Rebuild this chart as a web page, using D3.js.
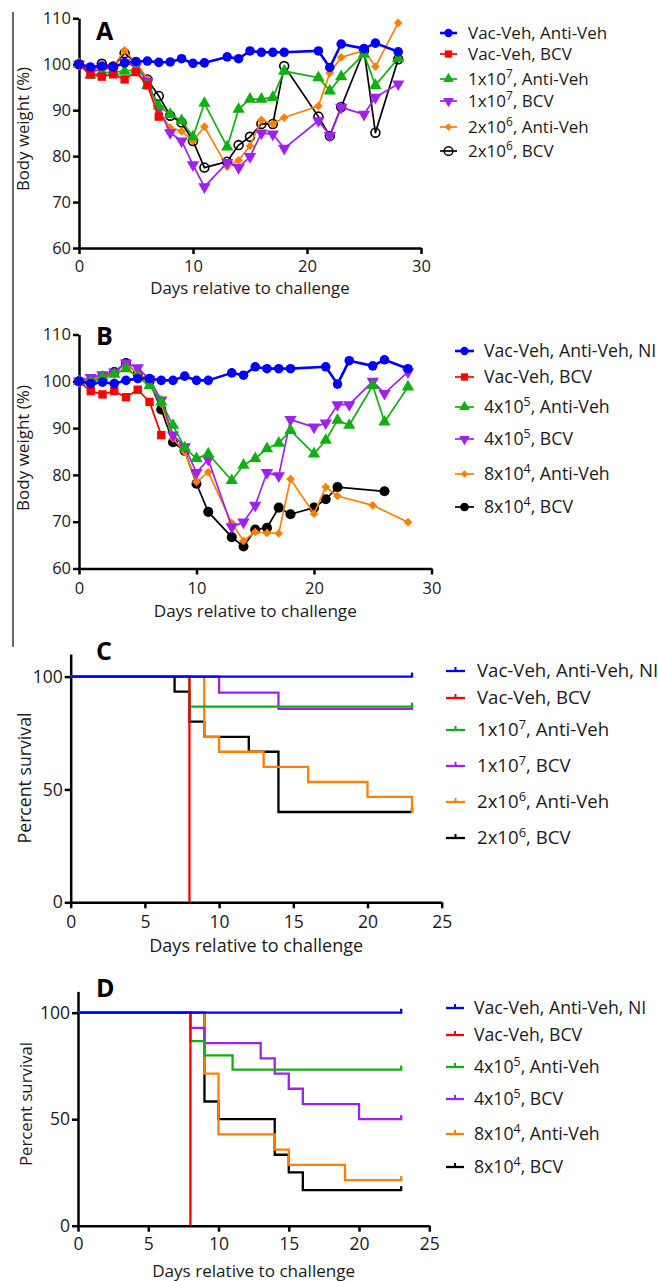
<!DOCTYPE html>
<html>
<head>
<meta charset="utf-8">
<script src="https://cdn.jsdelivr.net/npm/d3@7"></script>
<style>
  body { margin: 0; background: #fff; }
  svg { display: block; font-family: "Open Sans", Lato, sans-serif; }
</style>
</head>
<body>
<svg id="fig" width="658" height="1281"></svg>
<script>
// ---- panel A: body weight, high doses ----
const daysA = [0,1,2,3,4,5,6,7,8,9,10,11,13,14,15,16,17,18,21,22,23,25,26,28];
const aVacAnti = [100,99.4,99.6,99.4,100.3,100.6,100.7,100.4,100.5,101.2,100.2,100.3,101.6,101.2,102.9,102.6,102.6,102.6,102.9,99.3,104.4,103.4,104.6,102.7];
const aVacBcv  = [100,97.8,97.3,97.8,96.7,98.3,95.4,88.6];
const a1e7Anti = [100,97.6,98.2,98.3,98.5,98.8,95.4,90.9,89.1,87.7,84.2,91.5,82.0,90.2,92.4,92.4,92.8,98.5,97.1,94.2,97.3,102.2,95.4,101.3];
const a1e7Bcv  = [100,98.4,98.8,99.2,100.3,99.6,96.3,90.3,85.1,83.3,78.1,73.3,78.6,77.5,79.9,85.0,84.8,81.7,87.7,84.5,90.6,89.1,92.8,95.7];
const a2e6Anti = [100,98.9,99.2,99.5,103.0,100.3,96.7,89.8,86.2,85.4,83.3,86.4,77.7,79.1,82.2,87.9,87.0,88.4,90.9,98.1,101.5,103.0,99.5,109.0];
const a2e6Bcv  = [100,98.9,100.1,99.5,102.4,100.3,96.7,93.1,88.8,87.3,83.3,77.5,78.8,82.4,84.2,87.0,87.0,99.6,88.6,84.4,90.7,103.0,85.1,101.1];
const labelsA = ["Vac-Veh, Anti-Veh","Vac-Veh, BCV","1x10^7, Anti-Veh","1x10^7, BCV","2x10^6, Anti-Veh","2x10^6, BCV"];

// ---- panel B: body weight, low doses (null = not measured that day) ----
const daysB = [0,1,2,3,4,5,6,7,8,9,10,11,13,14,15,16,17,18,20,21,22,23,25,26,28];
const bVacAnti = [100,99.5,99.8,99.5,100.2,100.6,100.6,100.2,100.2,101.1,100.2,100.2,101.8,101.3,103.1,102.7,102.7,102.7,null,103.1,99.4,104.4,103.3,104.6,102.7];
const bVacBcv  = [100,97.9,97.2,97.9,96.6,98.2,95.6,88.5];
const b4e5Anti = [100,99.9,100.9,101.5,102.7,100.9,99.1,95.6,90.6,85.8,83.5,84.5,78.8,82.1,83.5,85.6,86.8,89.5,84.5,87.4,91.7,90.6,99.1,91.3,98.8];
const b4e5Bcv  = [100,100.8,101.4,102.0,103.9,102.9,100.4,96.0,88.5,86.0,80.5,83.3,68.9,69.9,73.5,80.5,79.8,91.8,90.2,91.1,95.0,95.0,100.0,97.4,102.0];
const b8e4Anti = [100,100.5,101.0,101.8,103.8,101.6,100.0,95.2,87.8,84.9,78.5,80.6,69.7,65.9,67.8,67.6,67.5,79.1,71.7,77.4,75.5,null,73.5,null,69.9];
const b8e4Bcv  = [100,99.8,101.0,102.0,103.9,101.6,100.0,94.0,87.0,85.1,78.1,72.1,66.7,64.7,68.3,68.7,73.0,71.6,73.0,74.8,77.4,null,null,76.5,null];
const labelsB = ["Vac-Veh, Anti-Veh, NI","Vac-Veh, BCV","4x10^5, Anti-Veh","4x10^5, BCV","8x10^4, Anti-Veh","8x10^4, BCV"];

// ---- panel C / D: Kaplan-Meier steps (day of each step, percent after it) ----
const survDaysC = [[0],[0,8],[0,8],[0,10,14],[0,9,10,13,16,20,23],[0,7,8,9,12,14]];
const survPctC  = [[100],[100,0],[100,86.7],[100,92.9,85.7],[100,73.3,66.7,60,53.3,46.7,40],[100,93.3,80,73.3,66.7,40]];
const labelsC = ["Vac-Veh, Anti-Veh, NI","Vac-Veh, BCV","1x10^7, Anti-Veh","1x10^7, BCV","2x10^6, Anti-Veh","2x10^6, BCV"];

const survDaysD = [[0],[0,8],[0,8,9,11],[0,8,9,13,14,15,16,20],[0,9,10,14,15,19],[0,9,10,14,15,16]];
const survPctD  = [[100],[100,0],[100,86.7,80,73.3],[100,92.9,85.7,78.6,71.4,64.3,57.1,50],[100,71.4,42.9,35.7,28.6,21.4],[100,58.3,50,33.3,25,16.7]];
const labelsD = labelsB;
const survEnd = 23;

const weightTicksX = [0,10,20,30];
const weightTicksY = [60,70,80,90,100,110];
const survTicksX = [0,5,10,15,20,25];
const survTicksY = [0,50,100];

const colors = ["#0000ff","#ff0000","#11b011","#a020f0","#ff8000","#000000"];
const ink = "#1a1a1a";
const fontStack = "'Open Sans', Lato, sans-serif";

const svg = d3.select("#fig");

// stray frame line on the left of the top two panels
svg.append("line").attr("x1", 13).attr("x2", 13).attr("y1", 12).attr("y2", 647)
  .attr("stroke", "#000").attr("stroke-width", 1.2);

// markers: circle, square, up, down, diamond, circle
const shapes = [
  {sym: d3.symbolCircle,   size: 72, rot: 0},
  {sym: d3.symbolSquare,   size: 70, rot: 0},
  {sym: d3.symbolTriangle, size: 66, rot: 0},
  {sym: d3.symbolTriangle, size: 66, rot: 180},
  {sym: d3.symbolSquare,   size: 38, rot: 45},
  {sym: d3.symbolCircle,   size: 80, rot: 0}
];

function styleAxis(g, fontSize) {
  g.selectAll(".domain").attr("stroke", "#000").attr("stroke-width", 2.5);
  g.selectAll(".tick line").attr("stroke", "#000").attr("stroke-width", 2.5);
  g.selectAll(".tick text").attr("fill", ink).style("font-size", fontSize + "px")
    .style("font-family", fontStack);
}

function addLabel(sel, label) {
  // "1x10^7, BCV" -> superscript exponent
  const m = label.match(/^(.*)\^(\d)(.*)$/);
  if (!m) { sel.text(label); return; }
  sel.append("tspan").text(m[1]);
  sel.append("tspan").attr("dy", -7).style("font-size", "70%").text(m[2]);
  sel.append("tspan").attr("dy", 7).text(m[3]);
}

function frameText(p, xTitle, yTitle) {
  svg.append("text").attr("x", (p.x0 + p.x1) / 2).attr("y", p.xTitleY)
    .attr("text-anchor", "middle").attr("fill", ink).style("font-size", p.titleSize + "px").text(xTitle);
  svg.append("text").attr("transform", "translate(" + p.yTitleX + "," + p.yTitleMid + ") rotate(-90)")
    .attr("text-anchor", "middle").attr("fill", ink).style("font-size", p.yTitleSize + "px").text(yTitle);
  svg.append("text").attr("x", p.letterX).attr("y", p.letterY).attr("fill", "#000")
    .style("font-size", "25px").style("font-weight", "bold").text(p.letter);
}

function drawWeight(p) {
  const x = d3.scaleLinear().domain([0, 30]).range([p.x0, p.x1]);
  const y = d3.scaleLinear().domain([60, 110]).range([p.y0, p.y1]);

  const gx = svg.append("g").attr("transform", "translate(0," + p.y0 + ")")
    .call(d3.axisBottom(x).tickValues(weightTicksX).tickSize(6).tickSizeOuter(0).tickPadding(p.xPad));
  const gy = svg.append("g").attr("transform", "translate(" + p.x0 + ",0)")
    .call(d3.axisLeft(y).tickValues(weightTicksY).tickSize(6).tickSizeOuter(0).tickPadding(2));
  styleAxis(gx, p.tickSize); styleAxis(gy, p.tickSize);
  frameText(p, "Days relative to challenge", "Body weight (%)");

  // last series first so the controls end up on top
  for (let i = p.series.length - 1; i >= 0; i--) {
    const pts = p.days.map((d, j) => [d, p.series[i][j]])
      .filter(q => q[1] != null && q[1] !== undefined);
    const g = svg.append("g");
    g.append("path")
      .attr("d", d3.line().x(q => x(q[0])).y(q => y(q[1]))(pts))
      .attr("fill", "none").attr("stroke", colors[i])
      .attr("stroke-width", i === 0 ? 2.6 : 1.7).attr("stroke-linejoin", "round");
    const sh = shapes[i];
    const open = (i === 5 && p.openBlack);
    g.selectAll("path.mk").data(pts).enter().append("path").attr("class", "mk")
      .attr("d", d3.symbol().type(sh.sym).size(open ? 62 : sh.size))
      .attr("transform", q => "translate(" + x(q[0]) + "," + y(q[1]) + ") rotate(" + sh.rot + ")")
      .attr("fill", open ? "none" : colors[i])
      .attr("stroke", open ? "#000" : "none").attr("stroke-width", 1.6);
  }

  // legend
  p.labels.forEach((lab, i) => {
    const ly = p.legendRows[i];
    svg.append("line").attr("x1", p.legendX).attr("x2", p.legendX + p.legendW)
      .attr("y1", ly).attr("y2", ly).attr("stroke", colors[i]).attr("stroke-width", i === 0 ? 2.6 : 1.7);
    const sh = shapes[i];
    const open = (i === 5 && p.openBlack);
    svg.append("path").attr("d", d3.symbol().type(sh.sym).size(sh.size * 0.75))
      .attr("transform", "translate(" + (p.legendX + p.legendW / 2) + "," + ly + ") rotate(" + sh.rot + ")")
      .attr("fill", open ? "none" : colors[i]).attr("stroke", open ? "#000" : "none").attr("stroke-width", 1.5);
    const t = svg.append("text").attr("x", p.legendTextX).attr("y", ly + 6)
      .attr("fill", ink).style("font-size", p.legendSize + "px");
    addLabel(t, lab);
  });
}

function drawSurvival(p) {
  const x = d3.scaleLinear().domain([0, 25]).range([p.x0, p.x1]);
  const y = d3.scaleLinear().domain([0, 110]).range([p.y0, p.y1]);

  const gx = svg.append("g").attr("transform", "translate(0," + p.y0 + ")")
    .call(d3.axisBottom(x).tickValues(survTicksX).tickSize(6).tickSizeOuter(0).tickPadding(p.xPad));
  const gy = svg.append("g").attr("transform", "translate(" + p.x0 + ",0)")
    .call(d3.axisLeft(y).tickValues(survTicksY).tickSize(6).tickSizeOuter(0).tickPadding(2));
  styleAxis(gx, p.tickSize); styleAxis(gy, p.tickSize);
  frameText(p, "Days relative to challenge", "Percent survival");

  const step = d3.line().x(q => x(q[0])).y(q => y(q[1])).curve(d3.curveStepAfter);
  for (let i = p.days.length - 1; i >= 0; i--) {
    const pts = p.days[i].map((d, j) => [d, p.pct[i][j]]);
    const last = pts[pts.length - 1][1];
    if (last > 0) pts.push([survEnd, last]);
    svg.append("path").attr("d", step(pts)).attr("fill", "none")
      .attr("stroke", colors[i]).attr("stroke-width", 2.3);
    if (last > 0) {
      // censor tick at the end of follow-up
      svg.append("line").attr("x1", x(survEnd)).attr("x2", x(survEnd))
        .attr("y1", y(last) + 1).attr("y2", y(last) - 4)
        .attr("stroke", colors[i]).attr("stroke-width", 2.3);
    }
  }

  p.labels.forEach((lab, i) => {
    const ly = p.legendRows[i];
    svg.append("line").attr("x1", p.legendX).attr("x2", p.legendX + p.legendW)
      .attr("y1", ly).attr("y2", ly).attr("stroke", colors[i]).attr("stroke-width", 2.3);
    svg.append("line").attr("x1", p.legendX + p.legendW / 2).attr("x2", p.legendX + p.legendW / 2)
      .attr("y1", ly).attr("y2", ly - 4).attr("stroke", colors[i]).attr("stroke-width", 2);
    const t = svg.append("text").attr("x", p.legendTextX).attr("y", ly + 6)
      .attr("fill", ink).style("font-size", p.legendSize + "px");
    addLabel(t, lab);
  });
}

drawWeight({
  letter: "A", letterX: 96, letterY: 40,
  x0: 79, x1: 421, y0: 248, y1: 18.3, xPad: 6, tickSize: 16.5,
  xTitleY: 294, yTitleX: 29, yTitleMid: 129, titleSize: 16.8, yTitleSize: 16.8,
  days: daysA, series: [aVacAnti, aVacBcv, a1e7Anti, a1e7Bcv, a2e6Anti, a2e6Bcv], openBlack: true,
  labels: labelsA, legendRows: [33, 54, 79, 101, 127, 151],
  legendX: 440, legendW: 17, legendTextX: 468, legendSize: 17
});

drawWeight({
  letter: "B", letterX: 96, letterY: 345,
  x0: 79, x1: 431.5, y0: 568.5, y1: 334.5, xPad: 8, tickSize: 16.5,
  xTitleY: 617, yTitleX: 29, yTitleMid: 448, titleSize: 17.1, yTitleSize: 17,
  days: daysB, series: [bVacAnti, bVacBcv, b4e5Anti, b4e5Bcv, b8e4Anti, b8e4Bcv], openBlack: false,
  labels: labelsB, legendRows: [351, 377, 407, 439, 474, 507],
  legendX: 455, legendW: 19, legendTextX: 484, legendSize: 17.7
});

drawSurvival({
  letter: "C", letterX: 96, letterY: 660,
  x0: 70.7, x1: 441.7, y0: 902.3, y1: 654, xPad: 7, tickSize: 17.5,
  xTitleY: 951.5, yTitleX: 31, yTitleMid: 778, titleSize: 18, yTitleSize: 17.7,
  days: survDaysC, pct: survPctC,
  labels: labelsC, legendRows: [671, 698, 730, 766, 802, 838],
  legendX: 446, legendW: 19, legendTextX: 477, legendSize: 18.6
});

drawSurvival({
  letter: "D", letterX: 96, letterY: 997,
  x0: 78, x1: 429.3, y0: 1225.7, y1: 991.4, xPad: 6, tickSize: 17.5,
  xTitleY: 1277, yTitleX: 31.5, yTitleMid: 1104, titleSize: 17.1, yTitleSize: 16.8,
  days: survDaysD, pct: survPctD,
  labels: labelsD, legendRows: [1008, 1035, 1067, 1099, 1134, 1167],
  legendX: 446, legendW: 18, legendTextX: 474, legendSize: 17.7
});
</script>
</body>
</html>
